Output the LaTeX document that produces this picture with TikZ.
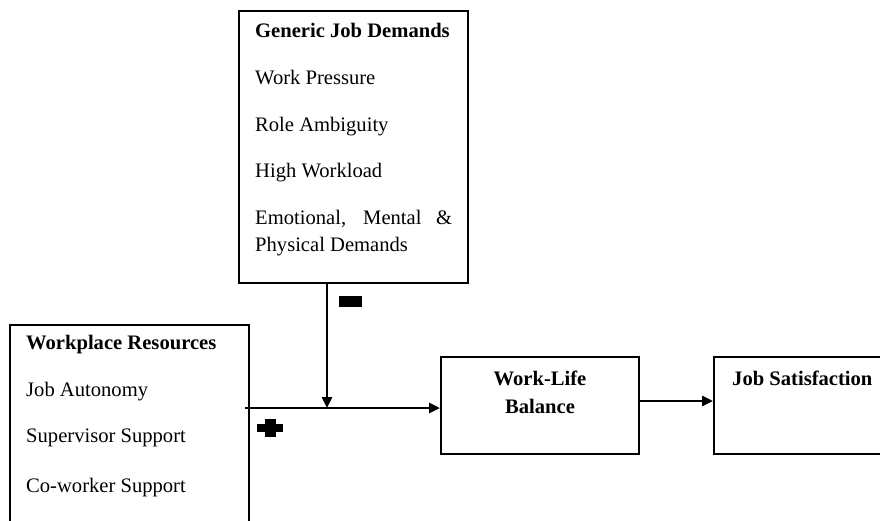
\documentclass[tikz,border=0pt]{standalone}
\usepackage{fontspec}
\setmainfont{Liberation Serif}
\usetikzlibrary{arrows.meta}
\begin{document}
\begin{tikzpicture}[x=1pt,y=-1pt,
  box/.style={draw=black, line width=2pt, rectangle, inner sep=0pt, fill=none},
  txt/.style={anchor=base west, inner sep=0pt, font=\fontsize{20.6}{27}\selectfont},
  btxt/.style={txt, font=\fontsize{20.6}{27}\selectfont\bfseries},
  ctxt/.style={anchor=base, inner sep=0pt, font=\fontsize{20.6}{27}\selectfont\bfseries},
  arr/.style={draw=black, line width=2.6pt, -{Triangle[length=11pt,width=10pt]}},
  sign/.style={fill=black, inner sep=0pt, rectangle}
]
\useasboundingbox (0,0) rectangle (880,520);
\clip (0,0) rectangle (880,520);
\fill[white] (0,0) rectangle (880,520);

% boxes
\node[box, minimum width=229pt, minimum height=272pt] (gjd) at (353.5,147) {};
\node[box, minimum width=239pt, minimum height=240pt] (wr) at (129.5,445) {};
\node[box, minimum width=198pt, minimum height=97pt] (wlb) at (540,405.5) {};
\node[box, minimum width=206pt, minimum height=97pt] (js) at (817,405.5) {};

% generic job demands text
\node[btxt] (g0) at (255,37) {Generic Job Demands};
\node[txt] (g1) at (255,84) {Work Pressure};
\node[txt] (g2) at (255,131) {Role Ambiguity};
\node[txt] (g3) at (255,177) {High Workload};
\node[txt, text width=197pt, align=justify] (g4) at (255,224) {Emotional, Mental \& Physical Demands};

% workplace resources text
\node[btxt] (w0) at (26,349) {Workplace Resources};
\node[txt] (w1) at (26,396) {Job Autonomy};
\node[txt] (w2) at (26,442) {Supervisor Support};
\node[txt] (w3) at (26,492) {Co-worker Support};

% outcome texts
\node[ctxt] (b1) at (540,385) {Work-Life};
\node[ctxt] (b2) at (540,413) {Balance};
\node[btxt] (s1) at (732,385) {Job Satisfaction};

% connectors
\coordinate (hs) at (245,408);
\coordinate (j) at (327,408);
\coordinate (a1) at (639,401);
\draw[arr] (hs) -- (wlb.west |- hs);
\draw[arr] (j |- gjd.south) -- (j);
\draw[arr] (wlb.east |- a1) -- (js.west |- a1);

% signs
\node[sign, minimum width=23pt, minimum height=11pt] (minus) at (350.5,301) {};
\node[sign, minimum width=26pt, minimum height=8pt] (plush) at (270,428) {};
\node[sign, minimum width=11pt, minimum height=18pt] (plusv) at (270.5,428) {};
\end{tikzpicture}
\end{document}
